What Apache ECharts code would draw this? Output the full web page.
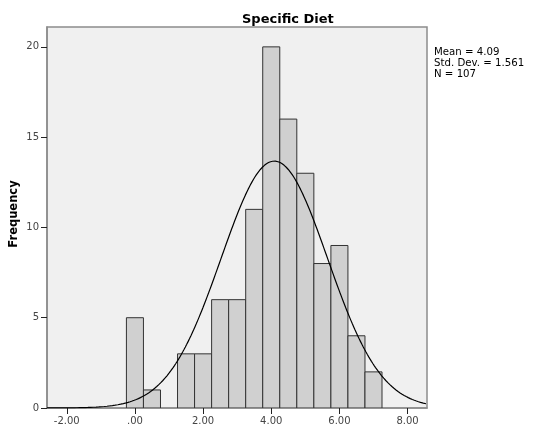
<!DOCTYPE html>
<html>
<head>
<meta charset="utf-8">
<title>Specific Diet</title>
<script src="https://cdn.jsdelivr.net/npm/echarts@6/dist/echarts.min.js"></script>
<style>
  html, body { margin: 0; padding: 0; background: #ffffff; }
  #chart { width: 536px; height: 432px; }
</style>
</head>
<body>
<div id="chart"></div>
<script>
// Histogram bins (centre of each bin) and their frequencies
const binCenters = [0, 0.5, 1.0, 1.5, 2.0, 2.5, 3.0, 3.5, 4.0, 4.5, 5.0, 5.5, 6.0, 6.5, 7.0];
const frequencies = [5, 1, 0, 3, 3, 6, 6, 11, 20, 16, 13, 8, 9, 4, 2];
const binWidth = 0.5;

// Summary statistics shown beside the plot
const mean = 4.09;
const stdDev = 1.561;
const n = 107;

// Axis ticks and their labels
const xTicks = [-2, 0, 2, 4, 6, 8];
const xTickLabels = ['-2.00', '.00', '2.00', '4.00', '6.00', '8.00'];
const yTicks = [0, 5, 10, 15, 20];

const xMin = -2.58, xMax = 8.57;
const yMin = 0, yMax = 21.1;

// Bars as [lower edge, upper edge, count]
const barData = binCenters.map((c, i) => [c - binWidth / 2, c + binWidth / 2, frequencies[i]]);

// Fitted normal curve, scaled to counts per bin
const curveData = [];
const scale = n * binWidth / (stdDev * Math.sqrt(2 * Math.PI));
for (let x = xMin; x <= xMax + 1e-9; x += 0.02) {
  const z = (x - mean) / stdDev;
  curveData.push([x, scale * Math.exp(-0.5 * z * z)]);
}

const labelFont = 'DejaVu Sans';
const chart = echarts.init(document.getElementById('chart'), null, { renderer: 'canvas' });

chart.setOption({
  animation: false,
  backgroundColor: '#ffffff',
  title: {
    text: 'Specific Diet',
    left: 237,
    top: 8,
    textStyle: { fontFamily: labelFont, fontSize: 13, fontWeight: 'bold', color: '#000' }
  },
  grid: {
    left: 47, top: 27, right: 109, bottom: 24,
    containLabel: false,
    outerBoundsMode: 'none',
    show: true,
    backgroundColor: '#f0f0f0',
    borderColor: '#8c8c8c',
    borderWidth: 1.5
  },
  xAxis: {
    type: 'value',
    min: xMin,
    max: xMax,
    axisLine: { show: true, onZero: false, lineStyle: { color: '#8c8c8c', width: 1.5 } },
    axisTick: { show: true, customValues: xTicks, length: 6, lineStyle: { color: '#222', width: 1 } },
    axisLabel: {
      customValues: xTicks,
      formatter: v => xTickLabels[xTicks.indexOf(v)],
      fontFamily: labelFont, fontSize: 10, color: '#444', margin: 8
    },
    splitLine: { show: false }
  },
  yAxis: {
    type: 'value',
    min: yMin,
    max: yMax,
    axisLine: { show: true, onZero: false, lineStyle: { color: '#8c8c8c', width: 1.5 } },
    axisTick: { show: true, customValues: yTicks, length: 6, lineStyle: { color: '#222', width: 1 } },
    axisLabel: {
      customValues: yTicks,
      fontFamily: labelFont, fontSize: 10, color: '#444', margin: 8
    },
    splitLine: { show: false }
  },
  graphic: [
    {
      // vertical axis title
      type: 'text',
      x: 14,
      y: 214,
      rotation: Math.PI / 2,
      style: {
        text: 'Frequency',
        font: 'bold 11.5px "DejaVu Sans"',
        fill: '#000',
        align: 'center',
        verticalAlign: 'middle'
      }
    },
    {
      // summary statistics
      type: 'text',
      left: 434,
      top: 47,
      style: {
        text: 'Mean = ' + mean.toFixed(2) + '\nStd. Dev. = ' + stdDev.toFixed(3) + '\nN = ' + n,
        font: '10.2px "DejaVu Sans"',
        lineHeight: 11,
        fill: '#000'
      }
    }
  ],
  series: [
    {
      type: 'custom',
      data: barData,
      encode: { x: [0, 1], y: 2 },
      clip: true,
      z: 2,
      renderItem: function (params, api) {
        const count = api.value(2);
        if (!count) return null;
        const topLeft = api.coord([api.value(0), count]);
        const bottomRight = api.coord([api.value(1), 0]);
        return {
          type: 'rect',
          shape: {
            x: topLeft[0],
            y: topLeft[1],
            width: bottomRight[0] - topLeft[0],
            height: bottomRight[1] - topLeft[1]
          },
          style: { fill: '#d0d0d0', stroke: '#333333', lineWidth: 1 }
        };
      }
    },
    {
      type: 'line',
      data: curveData,
      showSymbol: false,
      smooth: false,
      clip: true,
      z: 3,
      lineStyle: { color: '#000', width: 1.2 }
    }
  ]
});
</script>
</body>
</html>
